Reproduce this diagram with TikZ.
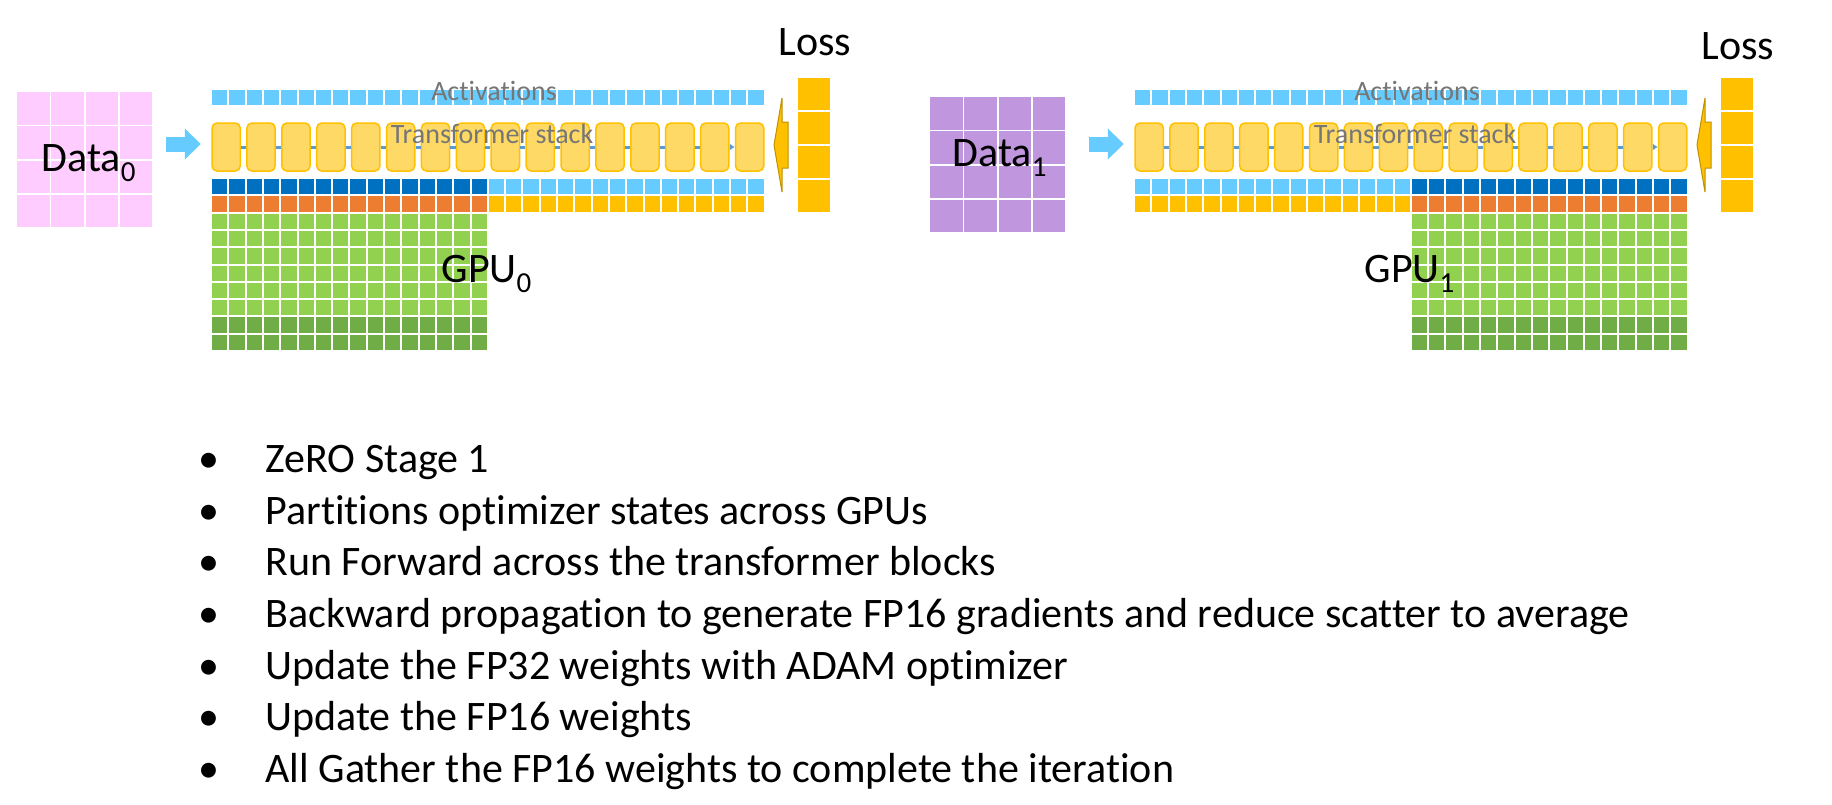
\documentclass[tikz,border=0pt]{standalone}
\usepackage{fontspec}
\setmainfont{Carlito}[Ligatures=NoCommon]
\usetikzlibrary{arrows.meta}

\definecolor{actblue}{HTML}{66CCFF}
\definecolor{darkblue}{HTML}{0070C0}
\definecolor{orangecell}{HTML}{ED7D31}
\definecolor{gold}{HTML}{FFC000}
\definecolor{darkgold}{HTML}{BF9000}
\definecolor{lightgreen}{HTML}{92D050}
\definecolor{darkgreen}{HTML}{70AD47}
\definecolor{blockyellow}{HTML}{FFD966}
\definecolor{linkblue}{HTML}{5B9BD5}
\definecolor{labelgray}{HTML}{767676}
\definecolor{datapink}{HTML}{FFCCFF}
\definecolor{datapurple}{RGB}{192,150,222}

% lowered index, as in Data_0 and GPU_1
\newcommand{\lowidx}[1]{\raisebox{-0.26em}{\fontsize{29}{29}\selectfont #1}}

\tikzset{
    bigtext/.style={font=\fontsize{42}{50}\selectfont},
    graytext/.style={font=\fontsize{28}{34}\selectfont, text=labelgray},
    tblock/.style={draw=gold, line width=1.5, fill=blockyellow, rounded corners=5,
                   minimum width=28.3, minimum height=48, inner sep=0},
    link/.style={draw=linkblue, line width=3},
    feed/.style={draw=actblue, line width=15, -{Triangle[length=16,width=30]}, shorten >=11},
    lossarrow/.style={fill=gold, draw=darkgold, line width=1, line join=miter},
}

\begin{document}
\begin{tikzpicture}[x=1pt, y=-1pt]
    % --- SETTINGS ---
    \def\Pitch{17.3}   % cell pitch of the GPU memory rows
    \def\Cell{15.3}    % cell size
    \useasboundingbox (0,0) rectangle (1832,804);

    % --- TWO GPUS: index / stack x / first own column / data grid / data label / loss label ---
    \foreach \p/\gx/\own/\dx/\dy/\dcol/\tx/\ty/\lb in
        {0/212/0/17/92/datapink/38/171/55, 1/1135/16/930/97/datapurple/949/166/59} {

        % --- DATA BATCH ---
        \foreach \i in {0,...,3}
            \foreach \j in {0,...,3}
                \fill[\dcol] ({\dx+34.25*\i},{\dy+34.25*\j}) rectangle ++(32.5,32.5);
        \node[bigtext, anchor=base west] (datalbl\p) at (\tx,\ty) {Data\lowidx{\p}};

        % --- ACTIVATIONS ROW ---
        \foreach \c in {0,...,31}
            \fill[actblue] ({\gx+\Pitch*\c},89.5) rectangle ++(\Cell,\Cell);

        % --- MEMORY ROWS: own partition ---
        \pgfmathtruncatemacro\ownend{\own+15}
        \pgfmathtruncatemacro\other{16-\own}
        \pgfmathtruncatemacro\otherend{\other+15}
        \foreach \c in {\own,...,\ownend} {
            \fill[darkblue] ({\gx+\Pitch*\c},179) rectangle ++(\Cell,\Cell);
            \fill[orangecell] ({\gx+\Pitch*\c},{179+\Pitch}) rectangle ++(\Cell,\Cell);
            \foreach \r in {2,...,7}
                \fill[lightgreen] ({\gx+\Pitch*\c},{179+\Pitch*\r}) rectangle ++(\Cell,\Cell);
            \foreach \r in {8,9}
                \fill[darkgreen] ({\gx+\Pitch*\c},{179+\Pitch*\r}) rectangle ++(\Cell,\Cell);
        }
        % --- MEMORY ROWS: other partition ---
        \foreach \c in {\other,...,\otherend} {
            \fill[actblue] ({\gx+\Pitch*\c},179) rectangle ++(\Cell,\Cell);
            \fill[gold] ({\gx+\Pitch*\c},{179+\Pitch}) rectangle ++(\Cell,\Cell);
        }
        \node[bigtext, anchor=base west] (gpulbl\p) at ({\gx+226},282) {GPU\lowidx{\p}};

        % --- TRANSFORMER STACK ---
        \node[inner sep=0, minimum width=552, minimum height=48] (stack\p) at ({\gx+276},147) {};
        \foreach \i in {1,...,16}
            \node[tblock] (tb\p-\i) at ({\gx+14.15+34.9*(\i-1)},147) {};
        \foreach \i [evaluate=\i as \j using int(\i+1)] in {1,...,14}
            \draw[link] (tb\p-\i) -- (tb\p-\j);
        \draw[link, -{Latex[length=5,width=7]}] (tb\p-15) -- (tb\p-16);
        \node[graytext, anchor=base] (actlbl\p) at ({\gx+282},100) {Activations};
        \node[graytext, anchor=base] (stacklbl\p) at ({\gx+280},143.3) {Transformer stack};

        % --- INPUT ARROW ---
        \coordinate (in\p) at ({\gx-46},144);
        \draw[feed] (in\p) -- (stack\p.west |- in\p);

        % --- LOSS ---
        \node[inner sep=0, minimum width=32, minimum height=134] (loss\p) at ({\gx+602},144.5) {};
        \foreach \k in {0,...,3}
            \fill[gold] ({\gx+586},{77.5+34*\k}) rectangle ++(32,32);
        \node[bigtext, anchor=base] (losslbl\p) at ({\gx+603},\lb) {Loss};
        \coordinate (tip\p) at ({\gx+562},145);
        \draw[lossarrow] (tip\p) -- ++(8,-47) -- ++(0,24) -- ++(6,0) -- ++(0,46)
            -- ++(-6,0) -- ++(0,24) -- cycle;
    }

    % --- BULLET LIST ---
    \foreach \txt [count=\k] in {ZeRO Stage 1,
            Partitions optimizer states across GPUs,
            Run Forward across the transformer blocks,
            Backward propagation to generate FP16 gradients and reduce scatter to average,
            Update the FP32 weights with ADAM optimizer,
            Update the FP16 weights,
            All Gather the FP16 weights to complete the iteration} {
        \node[bigtext, anchor=base] (dot\k) at (209,{472.7+51.6*(\k-1)}) {•};
        \node[bigtext, anchor=base west] (item\k) at (262,{472.7+51.6*(\k-1)}) {\txt};
    }
\end{tikzpicture}
\end{document}
